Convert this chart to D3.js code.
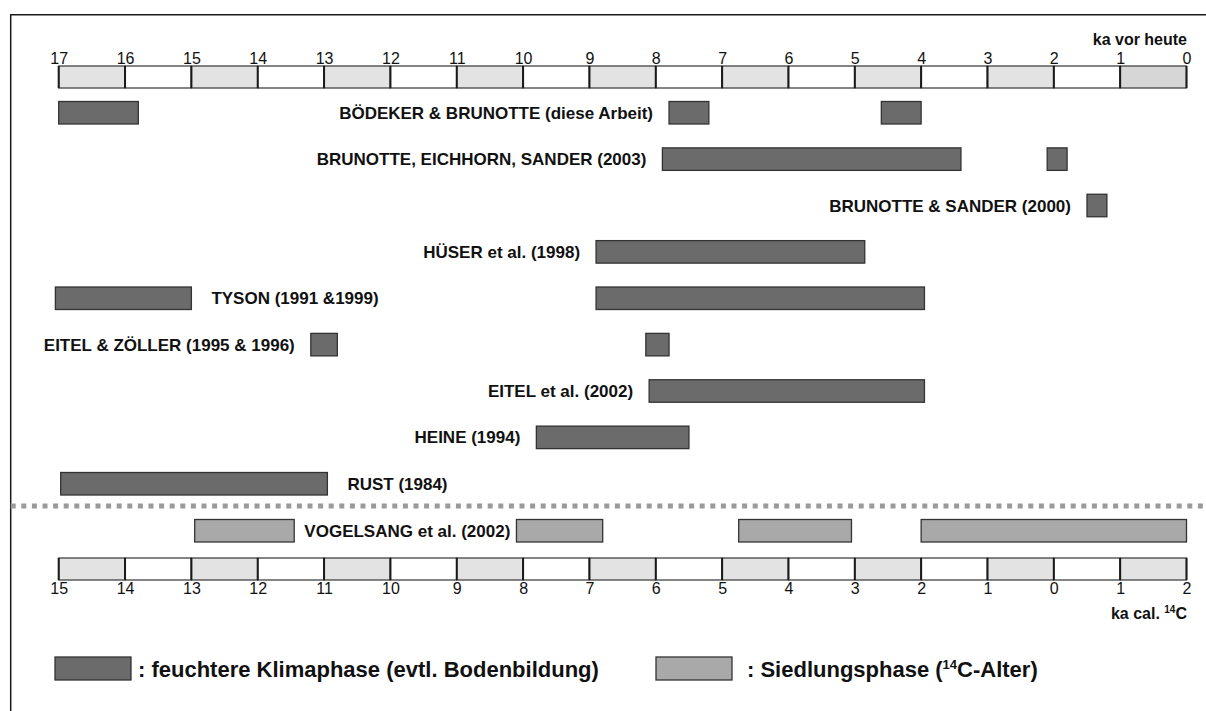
<!DOCTYPE html>
<html>
<head>
<meta charset="utf-8">
<script src="https://cdn.jsdelivr.net/npm/d3@7"></script>
<style>
  html, body { margin: 0; padding: 0; background: #ffffff; }
  svg { display: block; font-family: "Liberation Sans", Arial, Helvetica, sans-serif; }
</style>
</head>
<body>
<svg id="chart" width="1206" height="711"></svg>
<script>
// ---- data ----
const topTicks = [17,16,15,14,13,12,11,10,9,8,7,6,5,4,3,2,1,0];          // ka vor heute
const bottomTicks = [15,14,13,12,11,10,9,8,7,6,5,4,3,2,1,0,-1,-2];       // ka cal. 14C
const bottomTickLabels = ["15","14","13","12","11","10","9","8","7","6","5","4","3","2","1","0","1","2"];

const studies = [
  "BÖDEKER & BRUNOTTE (diese Arbeit)",
  "BRUNOTTE, EICHHORN, SANDER (2003)",
  "BRUNOTTE & SANDER (2000)",
  "HÜSER et al. (1998)",
  "TYSON (1991 &1999)",
  "EITEL & ZÖLLER (1995 & 1996)",
  "EITEL et al. (2002)",
  "HEINE (1994)",
  "RUST (1984)"
];
// humid phases, [start ka, end ka] per study
const humidPhases = [
  [[17, 15.8], [7.8, 7.2], [4.6, 4.0]],
  [[7.9, 3.4], [2.1, 1.8]],
  [[1.5, 1.2]],
  [[8.9, 4.85]],
  [[17.05, 15.0], [8.9, 3.95]],
  [[13.2, 12.8], [8.15, 7.8]],
  [[8.1, 3.95]],
  [[9.8, 7.5]],
  [[16.97, 12.95]]
];
// which phase the study label is attached to, and on which side
const labelPhase = [1, 0, 0, 0, 0, 0, 0, 0, 0];
const labelSide  = ["before","before","before","before","after","before","before","before","after"];

const settlementStudy = "VOGELSANG et al. (2002)";
const settlementPhases = [[12.95, 11.45], [8.1, 6.8], [4.75, 3.05], [2.0, -2.0]];

const legendLabels = [": feuchtere Klimaphase (evtl. Bodenbildung)", ": Siedlungsphase ("];
const topAxisTitle = "ka vor heute";

// ---- drawing ----
const svg = d3.select("#chart");
const W = 1206, H = 711;
const x0 = 58.7, x1 = 1186.5;
const xTop = d3.scaleLinear().domain([17, 0]).range([x0, x1]);
const xBot = d3.scaleLinear().domain([15, -2]).range([x0, x1]);
const rowY = d3.scaleLinear().domain([0, studies.length - 1]).range([101.5, 472.5]);
const barH = 22.5;

const DARK = "#6b6b6b", LIGHT = "#a9a9a9", STROKE = "#333";

svg.append("rect").attr("width", W).attr("height", H).attr("fill", "#ffffff");

// frame (top and left)
svg.append("path")
  .attr("d", `M10.7,${H} L10.7,14.7 L${W},14.7`)
  .attr("fill", "none").attr("stroke", "#1a1a1a").attr("stroke-width", 1.5);

function drawScaleBar(scale, ticks, yTop, h, labelPos, labels, lastShade) {
  const g = svg.append("g");
  const cells = d3.pairs(ticks);
  g.selectAll("rect.cell").data(cells).join("rect")
    .attr("class", "cell")
    .attr("x", d => scale(d[0]))
    .attr("y", yTop)
    .attr("width", d => scale(d[1]) - scale(d[0]))
    .attr("height", h)
    .attr("fill", (d, i) => i % 2 === 0 ? (i === cells.length - 1 ? lastShade : "#e3e3e3") : "#ffffff")
    .attr("stroke", "#444").attr("stroke-width", 1.3);
  g.selectAll("line.sep").data(ticks).join("line")
    .attr("class", "sep")
    .attr("x1", d => scale(d)).attr("x2", d => scale(d))
    .attr("y1", yTop).attr("y2", yTop + h)
    .attr("stroke", "#1a1a1a").attr("stroke-width", 2);
  // tick labels via d3 axis
  const axis = (labelPos === "top" ? d3.axisTop(scale) : d3.axisBottom(scale))
    .tickValues(ticks).tickSize(0).tickPadding(0)
    .tickFormat((d, i) => labels[i]);
  const ag = svg.append("g")
    .attr("transform", `translate(0,${labelPos === "top" ? yTop - 2 : yTop + h + 3})`)
    .call(axis);
  ag.attr("font-size", 16).attr("font-family", "'Liberation Sans', Arial, sans-serif");
  ag.select(".domain").remove();
  ag.selectAll("text").attr("fill", "#111");
}

drawScaleBar(xTop, topTicks, 66, 22, "top", topTicks.map(String), "#d6d6d6");
drawScaleBar(xBot, bottomTicks, 558, 22, "bottom", bottomTickLabels, "#e3e3e3");

// axis titles
svg.append("text").attr("x", 1187).attr("y", 44.5).attr("text-anchor", "end")
  .attr("font-size", 16).attr("font-weight", "bold").attr("fill", "#111").text(topAxisTitle);
const calT = svg.append("text").attr("x", 1187).attr("y", 619).attr("text-anchor", "end")
  .attr("font-size", 16).attr("font-weight", "bold").attr("fill", "#111");
calT.append("tspan").text("ka cal. ");
calT.append("tspan").attr("font-size", 10).attr("dy", -6).text("14");
calT.append("tspan").attr("dy", 6).text("C");

// humid phase bars + labels
const rows = svg.append("g");
studies.forEach((name, i) => {
  const y = rowY(i);
  rows.selectAll(null).data(humidPhases[i]).join("rect")
    .attr("x", d => xTop(d[0]))
    .attr("y", y)
    .attr("width", d => xTop(d[1]) - xTop(d[0]))
    .attr("height", barH)
    .attr("fill", DARK).attr("stroke", STROKE).attr("stroke-width", 1.3);
  const ph = humidPhases[i][labelPhase[i]];
  const before = labelSide[i] === "before";
  rows.append("text")
    .attr("x", before ? xTop(ph[0]) - 16 : xTop(ph[1]) + 20)
    .attr("y", y + barH / 2 + 6)
    .attr("text-anchor", before ? "end" : "start")
    .attr("font-size", 17).attr("font-weight", "bold").attr("fill", "#111")
    .text(name);
});

// dotted separator
svg.append("line").attr("x1", 10.7).attr("x2", W).attr("y1", 506).attr("y2", 506)
  .attr("stroke", "#9a9a9a").attr("stroke-width", 5).attr("stroke-dasharray", "5,5.6");

// settlement phases
const sy = 519.5;
svg.append("g").selectAll("rect").data(settlementPhases).join("rect")
  .attr("x", d => xBot(d[0])).attr("y", sy)
  .attr("width", d => xBot(d[1]) - xBot(d[0])).attr("height", barH)
  .attr("fill", LIGHT).attr("stroke", STROKE).attr("stroke-width", 1.3);
svg.append("text")
  .attr("x", (xBot(settlementPhases[0][1]) + xBot(settlementPhases[1][0])) / 2 + 2)
  .attr("y", sy + barH / 2 + 6).attr("text-anchor", "middle")
  .attr("font-size", 17).attr("font-weight", "bold").attr("fill", "#111")
  .text(settlementStudy);

// legend
const lg = svg.append("g");
lg.append("rect").attr("x", 55).attr("y", 657).attr("width", 76).attr("height", 23)
  .attr("fill", DARK).attr("stroke", STROKE).attr("stroke-width", 1.3);
lg.append("text").attr("x", 138).attr("y", 676.5).attr("font-size", 22).attr("font-weight", "bold")
  .attr("fill", "#111").text(legendLabels[0]);
lg.append("rect").attr("x", 656).attr("y", 657).attr("width", 76).attr("height", 23)
  .attr("fill", LIGHT).attr("stroke", STROKE).attr("stroke-width", 1.3);
const l2 = lg.append("text").attr("x", 747).attr("y", 676.5).attr("font-size", 22).attr("font-weight", "bold")
  .attr("fill", "#111");
l2.append("tspan").text(legendLabels[1]);
l2.append("tspan").attr("font-size", 13).attr("dy", -8).text("14");
l2.append("tspan").attr("dy", 8).text("C-Alter)");
</script>
</body>
</html>
